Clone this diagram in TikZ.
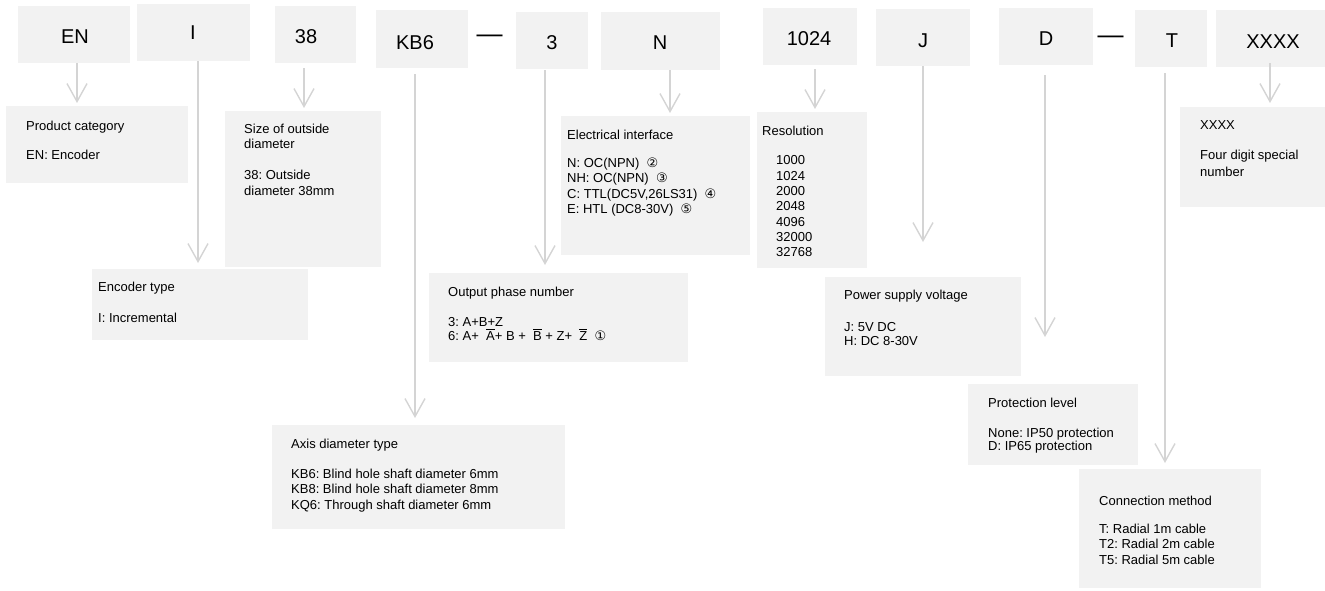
\documentclass[tikz,border=0pt]{standalone}
\usepackage{fontspec}
\setmainfont{Liberation Sans}
\newfontfamily\dejavu{DejaVu Sans}
\usetikzlibrary{arrows.meta,calc}
\definecolor{boxfill}{RGB}{242,242,242}
\definecolor{linegray}{RGB}{212,212,212}
\frenchspacing
\newcommand{\circnum}[1]{{\dejavu\fontsize{13}{13}\selectfont #1}}
\newcommand{\ovl}[1]{\leavevmode\setbox0\hbox{#1}\rlap{\raisebox{\dimexpr\ht0+1.6pt\relax}{\rule{\wd0}{0.7pt}}}\box0\relax}
\begin{document}
\begin{tikzpicture}[x=1pt,y=-1pt,
  box/.style={fill=boxfill, draw=none, anchor=north west, inner sep=0pt},
  code/.style={font=\fontsize{20}{20}\selectfont, inner sep=0pt, anchor=center},
  dashtxt/.style={font=\fontsize{26}{26}\selectfont, inner sep=0pt, anchor=base},
  desc/.style={font=\fontsize{13}{15.5}\selectfont, align=left, inner sep=0pt, anchor=north west},
  conn/.style={draw=linegray, line width=1.4pt, -{Straight Barb[length=18pt,width=20pt]}}]
\useasboundingbox (0,0) rectangle (1325,591);

% top code boxes
\node[box, minimum width=112pt, minimum height=57pt] (bEN) at (18,6) {};
\node[box, minimum width=113pt, minimum height=57pt] (bI) at (137,4) {};
\node[box, minimum width=81pt, minimum height=57pt] (b38) at (275,6) {};
\node[box, minimum width=92pt, minimum height=58pt] (bKB) at (376,10) {};
\node[box, minimum width=72pt, minimum height=57pt] (b3) at (516,12) {};
\node[box, minimum width=119pt, minimum height=58pt] (bN) at (601,12) {};
\node[box, minimum width=94pt, minimum height=57pt] (b1024) at (763,8) {};
\node[box, minimum width=94pt, minimum height=57pt] (bJ) at (876,9) {};
\node[box, minimum width=94pt, minimum height=57pt] (bD) at (999,8) {};
\node[box, minimum width=72pt, minimum height=57pt] (bT) at (1135,10) {};
\node[box, minimum width=109pt, minimum height=57pt] (bX) at (1216,10) {};

\node[code] (lEN) at (75,37) {EN};
\node[code] (lI) at (193,33) {I};
\node[code] (l38) at (306,37) {38};
\node[code] (lKB) at (415,43) {KB6};
\node[dashtxt] (d1) at (489.5,43) {—};
\node[code] (l3) at (552,43) {3};
\node[code] (lN) at (660,43) {N};
\node[code] (l1024) at (809,39) {1024};
\node[code] (lJ) at (923,41) {J};
\node[code] (lD) at (1046,39) {D};
\node[dashtxt] (d2) at (1110.5,44) {—};
\node[code] (lT) at (1172,41) {T};
\node[code] (lX) at (1273,42) {XXXX};

% description boxes
\node[box, minimum width=182pt, minimum height=77pt] (pPC) at (6,106) {};
\node[box, minimum width=156pt, minimum height=156pt] (pSZ) at (225,111) {};
\node[box, minimum width=216pt, minimum height=71pt] (pET) at (92,269) {};
\node[box, minimum width=293pt, minimum height=104pt] (pAX) at (272,425) {};
\node[box, minimum width=259pt, minimum height=89pt] (pOP) at (429,273) {};
\node[box, minimum width=189pt, minimum height=139pt] (pEI) at (561,116) {};
\node[box, minimum width=110pt, minimum height=156pt] (pRS) at (757,112) {};
\node[box, minimum width=196pt, minimum height=99pt] (pPS) at (825,277) {};
\node[box, minimum width=170pt, minimum height=81pt] (pPL) at (968,384) {};
\node[box, minimum width=182pt, minimum height=119pt] (pCM) at (1079,469) {};
\node[box, minimum width=145pt, minimum height=100pt] (pXX) at (1180,107) {};

% description texts
\node[desc] (tPC) at (26,119) {\strut Product category\\[13.5pt]EN: Encoder};
\node[desc] (tSZ) at (244,122) {\strut Size of outside\\diameter\\[15.5pt]38: Outside\\diameter 38mm};
\node[desc] (tET) at (98,280) {\strut Encoder type\\[15.5pt]I: Incremental};
\node[desc] (tAX) at (291,437) {\strut Axis diameter type\\[14.5pt]KB6: Blind hole shaft diameter 6mm\\KB8: Blind hole shaft diameter 8mm\\KQ6: Through shaft diameter 6mm};
\node[desc] (tOP) at (448,285) {\strut Output phase number\\[14.5pt]3: A+B+Z\\[-1.5pt]6: A+\ \ \ovl{A}+ B + \ \ovl{B} + Z+ \ \ovl{Z} \ \circnum{①}};
\node[desc] (tEI) at (567,128) {\strut Electrical interface\\[12.5pt]N: OC(NPN) \ \circnum{②}\\NH: OC(NPN) \ \circnum{③}\\C: TTL(DC5V,26LS31) \ \circnum{④}\\E: HTL (DC8-30V) \ \circnum{⑤}};
\node[desc] (tRS) at (762,124) {\strut Resolution};
\node[desc, font=\fontsize{13}{15.3}\selectfont] (tRN) at (776,154) {\strut 1000\\1024\\2000\\2048\\4096\\32000\\32768};
\node[desc] (tPS) at (844,288) {\strut Power supply voltage\\[16.5pt]J: 5V DC\\[-1.5pt]H: DC 8-30V};
\node[desc] (tPL) at (988,396) {\strut Protection level\\[14.5pt]None: IP50 protection\\[-2.5pt]D: IP65 protection};
\node[desc] (tCM) at (1099,494) {\strut Connection method\\[12.5pt]T: Radial 1m cable\\T2: Radial 2m cable\\T5: Radial 5m cable};
\node[desc] (tXX) at (1200,118) {\strut XXXX\\[14.5pt]Four digit special\\[1.5pt]number};

% connector x positions
\coordinate (cEN) at (77,0);
\coordinate (cI) at (198,0);
\coordinate (c38) at (304,0);
\coordinate (cKB) at (415,0);
\coordinate (c3) at (545,0);
\coordinate (cN) at (670,0);
\coordinate (c1024) at (815,0);
\coordinate (cJ) at (923,0);
\coordinate (cD) at (1045,0);
\coordinate (cT) at (1165,0);
\coordinate (cX) at (1270,0);

% connectors
\draw[conn] (bEN.south -| cEN) -- ($(pPC.north -| cEN)+(0,-3)$);
\draw[conn] (bI.south -| cI) -- ($(pET.north -| cI)+(0,-6)$);
\draw[conn] ($(b38.south -| c38)+(0,5)$) -- ($(pSZ.north -| c38)+(0,-3)$);
\draw[conn] ($(bKB.south -| cKB)+(0,6)$) -- ($(pAX.north -| cKB)+(0,-7)$);
\draw[conn] ($(b3.south -| c3)+(0,1)$) -- ($(pOP.north -| c3)+(0,-8)$);
\draw[conn] (bN.south -| cN) -- ($(pEI.north -| cN)+(0,-3)$);
\draw[conn] ($(b1024.south -| c1024)+(0,4)$) -- ($(pRS.north -| c1024)+(0,-3)$);
\draw[conn] (bJ.south -| cJ) -- ($(pPS.north -| cJ)+(0,-35)$);
\draw[conn] ($(bD.south -| cD)+(0,10)$) -- ($(pPL.north -| cD)+(0,-47)$);
\draw[conn] ($(bT.south -| cT)+(0,6)$) -- ($(pCM.north -| cT)+(0,-6)$);
\draw[conn] ($(bX.south -| cX)+(0,-4)$) -- ($(pXX.north -| cX)+(0,-4)$);
\end{tikzpicture}
\end{document}
